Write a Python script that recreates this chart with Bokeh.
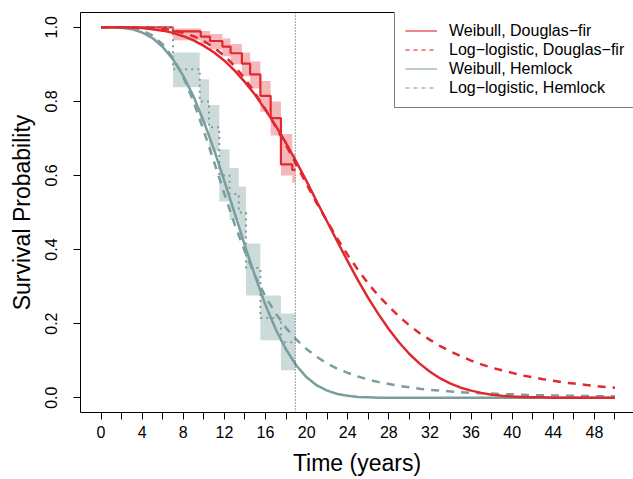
from bokeh.plotting import figure
from bokeh.models import (Range1d, FixedTicker, NumeralTickFormatter, LinearAxis,
                          Legend, LegendItem, Span, ColumnDataSource)
from bokeh.embed import file_html
from bokeh.resources import INLINE

# ---------------- data ----------------
t_grid = list(range(0, 51))

weibull_df = [1.000, 1.000, 1.000, 0.999, 0.998, 0.995, 0.991, 0.985, 0.976, 0.965,
              0.950, 0.932, 0.910, 0.883, 0.852, 0.817, 0.777, 0.734, 0.687, 0.637,
              0.584, 0.529, 0.475, 0.421, 0.368, 0.317, 0.269, 0.225, 0.185, 0.149,
              0.118, 0.092, 0.070, 0.052, 0.038, 0.027, 0.019, 0.013, 0.008, 0.005,
              0.003, 0.002, 0.001, 0.001, 0.000, 0.000, 0.000, 0.000, 0.000, 0.000,
              0.000]

loglog_df = [1.000, 1.000, 1.000, 1.000, 0.999, 0.998, 0.996, 0.992, 0.985, 0.976,
             0.963, 0.945, 0.923, 0.895, 0.861, 0.822, 0.778, 0.731, 0.681, 0.629,
             0.576, 0.524, 0.476, 0.429, 0.385, 0.345, 0.308, 0.275, 0.246, 0.219,
             0.195, 0.174, 0.156, 0.139, 0.125, 0.112, 0.100, 0.090, 0.081, 0.074,
             0.067, 0.060, 0.055, 0.050, 0.046, 0.041, 0.038, 0.035, 0.032, 0.029,
             0.027]

weibull_hem = [1.000, 1.000, 0.999, 0.995, 0.986, 0.971, 0.947, 0.913, 0.869, 0.813,
               0.745, 0.669, 0.585, 0.498, 0.410, 0.327, 0.250, 0.184, 0.130, 0.087,
               0.055, 0.033, 0.019, 0.010, 0.005, 0.002, 0.001, 0.000, 0.000, 0.000,
               0.000, 0.000, 0.000, 0.000, 0.000, 0.000, 0.000, 0.000, 0.000, 0.000,
               0.000, 0.000, 0.000, 0.000, 0.000, 0.000, 0.000, 0.000, 0.000, 0.000,
               0.000]

loglog_hem = [1.000, 1.000, 1.000, 0.997, 0.991, 0.978, 0.954, 0.918, 0.866, 0.799,
              0.720, 0.636, 0.550, 0.468, 0.394, 0.329, 0.273, 0.227, 0.188, 0.157,
              0.131, 0.110, 0.092, 0.078, 0.067, 0.057, 0.049, 0.042, 0.037, 0.032,
              0.028, 0.024, 0.021, 0.019, 0.017, 0.015, 0.013, 0.012, 0.011, 0.010,
              0.009, 0.008, 0.007, 0.0065, 0.006, 0.0055, 0.005, 0.0045, 0.004, 0.004,
              0.0035]

# Kaplan-Meier estimates with confidence limits
km_df_time = [0.0, 7.0, 9.7, 10.6, 11.8, 12.6, 13.7, 14.5, 15.5, 16.5, 17.5, 18.6]
km_df_surv = [1.000, 0.989, 0.975, 0.963, 0.948, 0.930, 0.902, 0.873, 0.815, 0.755, 0.630, 0.615]
km_df_lower = [1.000, 0.965, 0.955, 0.940, 0.922, 0.900, 0.868, 0.835, 0.772, 0.708, 0.600, 0.580]
km_df_upper = [1.000, 0.997, 0.990, 0.982, 0.970, 0.955, 0.932, 0.908, 0.855, 0.800, 0.712, 0.658]

km_hem_time = [0.0, 7.0, 9.6, 10.5, 11.5, 12.5, 13.4, 14.1, 15.5, 17.5]
km_hem_surv = [1.000, 0.887, 0.800, 0.730, 0.600, 0.550, 0.500, 0.350, 0.215, 0.150]
km_hem_lower = [1.000, 0.838, 0.740, 0.665, 0.530, 0.480, 0.430, 0.276, 0.155, 0.074]
km_hem_upper = [1.000, 0.932, 0.860, 0.790, 0.670, 0.620, 0.570, 0.416, 0.276, 0.227]

followup_end = 18.9

x_ticks = list(range(0, 51, 2))
x_tick_labels = ["0", "", "4", "", "8", "", "12", "", "16", "", "20", "", "24", "",
                 "28", "", "32", "", "36", "", "40", "", "44", "", "48", ""]
y_ticks = [0.0, 0.2, 0.4, 0.6, 0.8, 1.0]

legend_labels = ["Weibull, Douglas\u2212fir", "Log\u2212logistic, Douglas\u2212fir",
                 "Weibull, Hemlock", "Log\u2212logistic, Hemlock"]

# ---------------- styling ----------------
RED = "#e2282f"
TEAL = "#7a9e9e"
FONT = "Liberation Sans"

p = figure(width=633, height=479, output_backend="svg", toolbar_location=None,
           x_range=Range1d(-2.0, 51.8), y_range=Range1d(-0.04, 1.04),
           min_border_left=80, min_border_right=0, min_border_top=12, min_border_bottom=67,
           x_axis_label="Time (years)", y_axis_label="Survival Probability")
p.grid.visible = False
p.outline_line_color = None
p.background_fill_color = "white"
p.border_fill_color = "white"

# x axis
xa = p.xaxis[0]
xa.ticker = FixedTicker(ticks=x_ticks)
xa.major_label_overrides = {t: lab for t, lab in zip(x_ticks, x_tick_labels)}
# y axis
ya = p.yaxis[0]
ya.ticker = FixedTicker(ticks=y_ticks)
ya.formatter = NumeralTickFormatter(format="0.0")
ya.major_label_orientation = "vertical"

for ax in (xa, ya):
    ax.axis_line_color = "black"
    ax.axis_line_width = 1
    ax.major_tick_line_color = "black"
    ax.major_tick_out = 7
    ax.major_tick_in = 0
    ax.minor_tick_out = 0
    ax.minor_tick_in = 0
    ax.major_label_text_font = FONT
    ax.major_label_text_font_size = "16px"
    ax.major_label_text_color = "black"
    ax.axis_label_text_font = FONT
    ax.axis_label_text_font_size = "23px"
    ax.axis_label_text_font_style = "normal"
    ax.axis_label_text_color = "black"
xa.major_label_standoff = 6
xa.axis_label_standoff = 9
ya.major_label_standoff = 16
ya.axis_label_standoff = 8

# top frame line
top = LinearAxis(ticker=FixedTicker(ticks=[]), major_label_text_font_size="0px",
                 major_tick_out=0, major_tick_in=0, minor_tick_out=0, minor_tick_in=0,
                 major_label_standoff=0, axis_line_color="black")
p.add_layout(top, "above")

# confidence bands
p.quad(left=km_df_time, right=km_df_time[1:] + [followup_end],
       bottom=km_df_lower, top=km_df_upper,
       fill_color=RED, fill_alpha=0.33, line_color=None)
p.quad(left=km_hem_time, right=km_hem_time[1:] + [followup_end],
       bottom=km_hem_lower, top=km_hem_upper,
       fill_color=TEAL, fill_alpha=0.38, line_color=None)

# follow-up limit
p.add_layout(Span(location=followup_end, dimension="height", line_color="#444444",
                  line_width=1, line_dash="1 2"))

# KM step lines
p.step(km_df_time + [followup_end], km_df_surv + [km_df_surv[-1]], mode="after",
       line_color=RED, line_width=2.2)
p.step(km_hem_time + [followup_end], km_hem_surv + [km_hem_surv[-1]], mode="after",
       line_color=TEAL, line_width=2, line_dash="2 4")

# fitted curves
p.line(t_grid, weibull_hem, line_color=TEAL, line_width=2.5)
p.line(t_grid, loglog_hem, line_color=TEAL, line_width=2.5, line_dash="8 7")
p.line(t_grid, weibull_df, line_color=RED, line_width=2.5)
p.line(t_grid, loglog_df, line_color=RED, line_width=2.5, line_dash="8 7")

# legend proxies (thin, lighter lines as in the original key); NaN data draws nothing
nan = float("nan")
def proxy(color, dash):
    return p.line("x", "y", source=ColumnDataSource(dict(x=[nan], y=[nan])),
                  line_color=color, line_width=1.3, line_dash=dash)
l1 = proxy("#ee5a60", "solid")
l2 = proxy("#ee5a60", "4 4")
l3 = proxy("#a3bdbd", "solid")
l4 = proxy("#a3bdbd", "4 4")

legend = Legend(items=[LegendItem(label=lab, renderers=[r])
                       for lab, r in zip(legend_labels, [l1, l2, l3, l4])],
                location=(314, 304), orientation="vertical",
                border_line_color="black", border_line_width=1,
                background_fill_color="white", background_fill_alpha=1.0,
                label_text_font=FONT, label_text_font_size="16px", label_text_color="black",
                glyph_width=32, glyph_height=19, label_height=19,
                label_standoff=12, spacing=0, padding=10, margin=0)
p.add_layout(legend)

open("out.html", "w").write(file_html(p, INLINE))
